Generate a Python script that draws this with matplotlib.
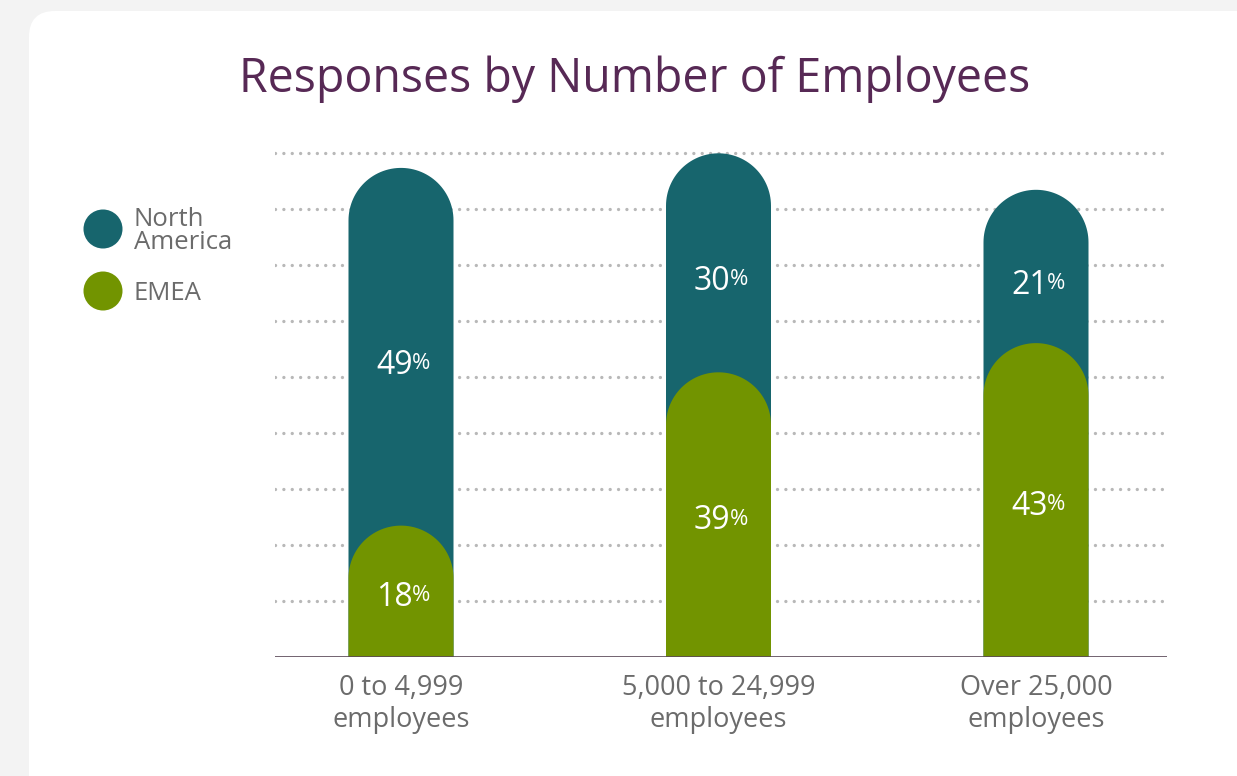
import matplotlib
matplotlib.use("Agg")
import numpy as np
import matplotlib.pyplot as plt
from matplotlib.patches import Polygon, Circle, FancyBboxPatch

# data
categories = ["0 to 4,999\nemployees", "5,000 to 24,999\nemployees", "Over 25,000\nemployees"]
series_names = ["North\nAmerica", "EMEA"]
north_america = [49, 30, 21]
emea = [18, 39, 43]

# colours
na_color = "#17656d"
emea_color = "#729400"
title_color = "#572955"
text_gray = "#6b6b6b"
dot_gray = "#b8b8b8"

W, H, DPI = 1237, 776, 100
fig = plt.figure(figsize=(W / DPI, H / DPI), dpi=DPI, facecolor="#f3f3f3")
plt.rcParams["font.family"] = ["Open Sans", "DejaVu Sans"]

# background card / legend / title live in a pixel-space axes
bg = fig.add_axes([0, 0, 1, 1], zorder=0)
bg.set_xlim(0, W)
bg.set_ylim(H, 0)
bg.axis("off")
bg.add_patch(FancyBboxPatch((29, 11), 1400, 1000,
                            boxstyle="round,pad=0,rounding_size=26",
                            fc="white", ec="none"))
bg.text(635, 92, "Responses by Number of Employees", ha="center", va="baseline",
        fontsize=33.5, color=title_color)

for (cy, name, col) in zip([229, 291], series_names, [na_color, emea_color]):
    bg.add_patch(Circle((103, cy), 19.5, fc=col, ec="none"))
    bg.text(134, cy + 2, name, ha="left", va="center", fontsize=18.5,
            color=text_gray, linespacing=0.88)

# main chart geometry (pixels)
x0_px, x1_px, base_px = 275, 1167, 657
px_per_pct = 7.3
ymax = 70
centers_px = [401, 718.5, 1036]
step_px = centers_px[1] - centers_px[0]
bar_w_px = 105

ax = fig.add_axes([x0_px / W, (H - base_px) / H, (x1_px - x0_px) / W,
                   ymax * px_per_pct / H], zorder=1)
ax.patch.set_alpha(0)
ax.set_xlim((x0_px - centers_px[0]) / step_px, (x1_px - centers_px[0]) / step_px)
ax.set_ylim(0, ymax)

bw = bar_w_px / step_px
r_y = (bar_w_px / 2) / px_per_pct
t = np.linspace(0, np.pi, 60)


def capsule(x, top, color):
    # rectangle with a round (semicircle in pixels) cap
    cy = top - r_y
    xs = np.concatenate([[x + bw / 2], x + bw / 2 * np.cos(t), [x - bw / 2]])
    ys = np.concatenate([[0], cy + r_y * np.sin(t), [0]])
    ax.add_patch(Polygon(np.column_stack([xs, ys]), closed=True, fc=color,
                         ec="none", zorder=3))


def pct_label(x, y, val):
    ax.annotate(str(val), (x, y), xytext=(8.5, 0), textcoords="offset points",
                ha="right", va="center_baseline", fontsize=23, color="white", zorder=5)
    ax.annotate("%", (x, y), xytext=(8, 0), textcoords="offset points",
                ha="left", va="center_baseline", fontsize=16, color="white", zorder=5)


grid_step = 7.67
for k in range(1, 10):
    ax.axhline(k * grid_step, color=dot_gray, lw=2.4, linestyle=(0, (0.01, 2.5)),
               dash_capstyle="round", zorder=1)
ax.axhline(0, color="#5a4858", lw=1.2, zorder=4)

for i, (na, em) in enumerate(zip(north_america, emea)):
    total = na + em
    capsule(i, total, na_color)
    capsule(i, em, emea_color)
    pct_label(i, (em + total) / 2 - 2, na)
    pct_label(i, em / 2 - 0.3, em)

ax.set_xticks(range(len(categories)))
ax.set_xticklabels(categories, fontsize=19.5, color=text_gray, linespacing=1.22)
ax.tick_params(axis="x", length=0, pad=12)
ax.set_yticks([])
for s in ax.spines.values():
    s.set_visible(False)

fig.savefig("out.png", dpi=DPI, facecolor=fig.get_facecolor())
